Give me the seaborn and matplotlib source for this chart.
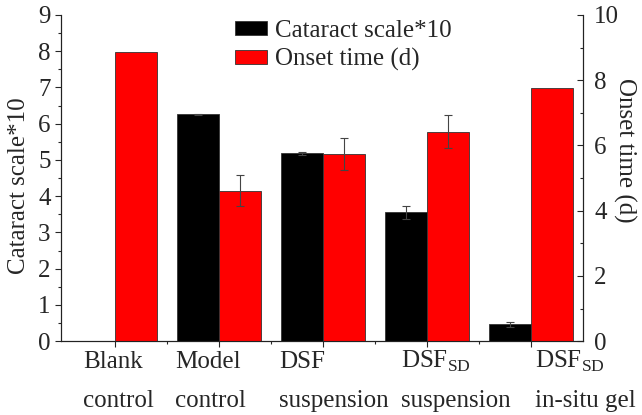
import numpy as np
import pandas as pd
import seaborn as sns
import matplotlib.pyplot as plt
import matplotlib.transforms as mtransforms
from matplotlib.patches import Patch
from matplotlib.ticker import MultipleLocator

# data
groups = ["Blank\ncontrol", "Model\ncontrol", "DSF\nsuspension",
          "DSF$_\\mathregular{SD}$\nsuspension", "DSF$_\\mathregular{SD}$\nin-situ gel"]
cataract = [0.0, 6.26, 5.18, 3.55, 0.46]
cataract_err = [0.0, 0.02, 0.05, 0.18, 0.07]
onset = [8.86, 4.61, 5.73, 6.42, 7.75]
onset_err = [0.0, 0.48, 0.49, 0.50, 0.0]
series = ["Cataract scale*10", "Onset time (d)"]
colors = {"Cataract scale*10": "#000000", "Onset time (d)": "#ff0000"}

sns.set_style("ticks")
plt.rcParams['font.family'] = ['Liberation Serif', 'DejaVu Serif']
plt.rcParams['mathtext.fontset'] = 'custom'
plt.rcParams['mathtext.rm'] = 'Liberation Serif'
fs = 18

df_cat = pd.DataFrame({"group": groups, "value": cataract, "series": series[0]})
df_on = pd.DataFrame({"group": groups, "value": onset, "series": series[1]})

fig = plt.figure(figsize=(6.42, 4.15), dpi=100)
ax1 = fig.add_axes([0.095, 0.178, 0.813, 0.786])
ax2 = ax1.twinx()

sns.barplot(data=df_cat, x="group", y="value", hue="series", hue_order=series,
            palette=colors, order=groups, width=0.8, dodge=True, saturation=1,
            errorbar=None, legend=False, edgecolor="#333333", linewidth=0.6, ax=ax1)
sns.barplot(data=df_on, x="group", y="value", hue="series", hue_order=series,
            palette=colors, order=groups, width=0.8, dodge=True, saturation=1,
            errorbar=None, legend=False, edgecolor="#333333", linewidth=0.6, ax=ax2)

# error bars on top of the bars
for ax, errs in [(ax1, cataract_err), (ax2, onset_err)]:
    bars = [c for c in ax.containers if len(c) > 0][0]
    xs = np.array([b.get_x() + b.get_width() / 2 for b in bars])
    hs = np.array([b.get_height() for b in bars])
    e = np.array(errs)
    m = e > 0
    ax.errorbar(xs[m], hs[m], yerr=e[m], fmt='none', ecolor="#444444",
                elinewidth=0.8, capsize=3, capthick=0.8)

ax1.set_xlim(-0.52, 4.5)
ax1.set_ylim(0, 9)
ax2.set_ylim(0, 10)
ax1.yaxis.set_major_locator(MultipleLocator(1))
ax1.yaxis.set_minor_locator(MultipleLocator(0.5))
ax2.yaxis.set_major_locator(MultipleLocator(2))
ax2.yaxis.set_minor_locator(MultipleLocator(1))
ticks = np.arange(len(groups))
ax1.set_xticks(ticks)
ax1.set_xticks(np.arange(0.5, len(groups) - 0.5, 1), minor=True)
ax1.set_xticklabels([])

# category labels: two left-aligned lines, shifted like in the original
shifts_px = [-32, -44, -44, -26, 4]
base = mtransforms.blended_transform_factory(ax1.transData, ax1.transAxes)
for t, lab, dx in zip(ticks, groups, shifts_px):
    for line, dy in zip(lab.split("\n"), [27, 66]):
        off = mtransforms.ScaledTranslation(dx / 100, -dy / 100, fig.dpi_scale_trans)
        ax1.text(t, 0, line, transform=base + off, ha='left', va='baseline',
                 fontsize=fs, clip_on=False)

ax1.set_xlabel("")
ax1.set_ylabel("Cataract scale*10", fontsize=fs)
ax1.yaxis.label.set(ha='center', va='center', rotation_mode='default')
ax1.yaxis.set_label_coords(-0.08, 0.478)
ax2.set_ylabel("Onset time (d)", fontsize=fs, rotation=270)
ax2.yaxis.label.set(ha='center', va='center', rotation_mode='default')
ax2.yaxis.set_label_coords(1.080, 0.586)

ax1.tick_params(axis='y', which='major', direction='out', length=4.5, width=0.8, labelsize=fs, pad=3)
ax1.tick_params(axis='y', which='minor', direction='out', length=2.5, width=0.8)
ax1.tick_params(axis='x', which='major', direction='out', length=4.5, width=0.8, pad=3)
ax1.tick_params(axis='x', which='minor', direction='out', length=2.5, width=0.8)
ax2.tick_params(axis='y', which='major', direction='in', length=4.5, width=0.8, labelsize=fs, pad=8)
ax2.tick_params(axis='y', which='minor', direction='in', length=2.5, width=0.8)

for ax in (ax1, ax2):
    ax.spines['top'].set_visible(False)
    for s in ('left', 'right', 'bottom'):
        ax.spines[s].set_linewidth(0.8)
        ax.spines[s].set_color("#222222")

handles = [Patch(facecolor=colors[s], edgecolor="#333333", linewidth=0.6, label=s) for s in series]
ax2.legend(handles=handles, loc='upper left', bbox_to_anchor=(0.333, 0.985), frameon=False,
           fontsize=fs, handlelength=1.3, handleheight=0.5, handletextpad=0.3,
           labelspacing=0.25, borderaxespad=0, borderpad=0)

fig.savefig("out.png", dpi=100)
